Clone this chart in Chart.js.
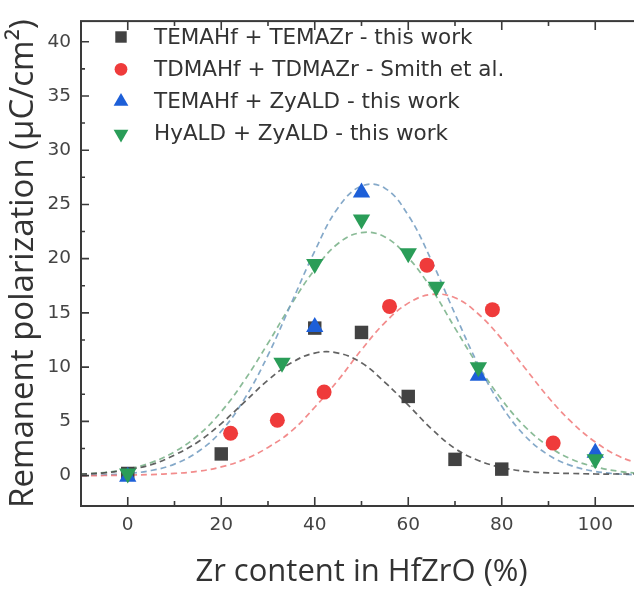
<!DOCTYPE html>
<html><head><meta charset="utf-8">
<script src="https://cdn.jsdelivr.net/npm/chart.js@4"></script>
<style>
html,body{margin:0;padding:0;overflow:hidden;background:#fff;width:634px;height:591px}
#wrap{width:652px;height:591px;position:relative}
</style></head>
<body><div id="wrap"><canvas id="c" width="652" height="591"></canvas></div>
<script>
// ---- data ----
const seriesLabels = ['TEMAHf + TEMAZr - this work','TDMAHf + TDMAZr - Smith et al.','TEMAHf + ZyALD - this work','HyALD + ZyALD - this work'];
const xTicks = [0,20,40,60,80,100];
const xMinorTicks = [10,30,50,70,90];
const yTicks = [0,5,10,15,20,25,30,35,40];
const yMinorTicks = [2.5,7.5,12.5,17.5,22.5,27.5,32.5,37.5];

const temaX = [0,20,40,50,60,70,80];
const temaY = [0.2,2.0,13.6,13.2,7.3,1.5,0.6];
const smithX = [22,32,42,56,64,78,91];
const smithY = [3.9,5.1,7.7,15.6,19.4,15.3,3.0];
const zyX = [0,40,50,75,100];
const zyY = [-0.1,13.7,26.1,9.2,2.1];
const hyX = [0,33,40,50,60,66,75,100];
const hyY = [0.2,10.4,19.5,23.6,20.5,17.4,10.0,1.5];

// fitted curves
const fitX = [-10,-5,0,5,10,15,20,25,30,35,40,45,50,55,60,65,70,75,80,85,90,95,100,105,110];
const temaFit = [0.15,0.25,0.55,1.0,1.9,3.1,4.8,6.8,8.8,10.4,11.3,11.3,10.4,8.6,6.5,4.3,2.5,1.4,0.75,0.4,0.25,0.2,0.15,0.15,0.15];
const smithFit = [0.0,0.01,0.05,0.1,0.2,0.4,0.8,1.5,2.6,4.1,6.3,8.8,11.6,14.1,15.9,16.7,16.4,14.9,12.6,9.9,7.2,4.9,3.1,1.8,1.0];
const zyFit = [0.02,0.07,0.19,0.47,1.06,2.2,4.1,7.1,11.1,15.9,20.7,24.7,26.7,26.5,24.0,19.8,14.9,10.2,6.4,3.65,1.9,0.9,0.39,0.15,0.06];
const hyFit = [0.13,0.29,0.61,1.2,2.2,3.7,5.9,8.8,12.2,15.8,19.0,21.4,22.4,22.0,20.1,17.2,13.6,10.1,7.0,4.5,2.7,1.5,0.81,0.4,0.18];

const colors = ['#424242','#ef3b3b','#1d5fd8','#2a9d58'];
const fitColors = ['rgba(70,70,70,0.85)','rgba(240,120,120,0.85)','rgba(120,160,195,0.9)','rgba(125,180,140,0.9)'];
const styles = [
  {pointStyle:'rect', radius:9.5, rotation:0},
  {pointStyle:'circle', radius:7.5, rotation:0},
  {pointStyle:'triangle', radius:10, rotation:0},
  {pointStyle:'triangle', radius:10, rotation:180}
];

const pts = (xs,ys)=>xs.map((x,i)=>({x:x,y:ys[i]}));
const dataSets = [[temaX,temaY],[smithX,smithY],[zyX,zyY],[hyX,hyY]];
const fits = [temaFit,smithFit,zyFit,hyFit];

const datasets = [];
fits.forEach((f,i)=>{
  datasets.push({type:'line', label:'fit'+i, data:pts(fitX,f), showLine:true, borderColor:fitColors[i],
    borderWidth:1.7, borderDash:[6,4], pointRadius:0, fill:false, tension:0.4, order:10+i});
});
dataSets.forEach((d,i)=>{
  datasets.push({type:'scatter', label:seriesLabels[i], data:pts(d[0],d[1]),
    pointStyle:styles[i].pointStyle, pointRadius:styles[i].radius, pointHoverRadius:styles[i].radius,
    pointRotation:styles[i].rotation, backgroundColor:colors[i], borderColor:colors[i], borderWidth:0, order:5-i});
});

function drawMarker(ctx, st, x, y){
  ctx.beginPath();
  const r = st.radius;
  if (st.pointStyle==='rect'){ const s=Math.SQRT1_2*r; ctx.rect(x-s,y-s,2*s,2*s); }
  else if (st.pointStyle==='circle'){ ctx.arc(x,y,r,0,Math.PI*2); }
  else { let rad = st.rotation*Math.PI/180;
    ctx.moveTo(x+Math.sin(rad)*r, y-Math.cos(rad)*r); rad+=2*Math.PI/3;
    ctx.lineTo(x+Math.sin(rad)*r, y-Math.cos(rad)*r); rad+=2*Math.PI/3;
    ctx.lineTo(x+Math.sin(rad)*r, y-Math.cos(rad)*r); ctx.closePath(); }
  ctx.fill();
}

const frame = {
  id:'frame',
  afterDatasetsDraw(ch){
    const {ctx, chartArea:a, scales:{x,y}} = ch;
    ctx.save();
    ctx.strokeStyle='#3a3a3a'; ctx.lineWidth=2;
    ctx.strokeRect(a.left, a.top, a.right-a.left, a.bottom-a.top);
    ctx.lineWidth=1.6;
    ctx.beginPath();
    xTicks.forEach(v=>{const p=x.getPixelForValue(v); ctx.moveTo(p,a.bottom); ctx.lineTo(p,a.bottom-9); ctx.moveTo(p,a.top); ctx.lineTo(p,a.top+9);});
    xMinorTicks.forEach(v=>{const p=x.getPixelForValue(v); ctx.moveTo(p,a.bottom); ctx.lineTo(p,a.bottom-5); ctx.moveTo(p,a.top); ctx.lineTo(p,a.top+5);});
    yTicks.forEach(v=>{const p=y.getPixelForValue(v); ctx.moveTo(a.left,p); ctx.lineTo(a.left+8,p); ctx.moveTo(a.right,p); ctx.lineTo(a.right-8,p);});
    yMinorTicks.forEach(v=>{const p=y.getPixelForValue(v); ctx.moveTo(a.left,p); ctx.lineTo(a.left+4,p); ctx.moveTo(a.right,p); ctx.lineTo(a.right-4,p);});
    ctx.stroke();
    // legend
    ctx.font = '21.5px "DejaVu Sans", sans-serif';
    ctx.textBaseline='middle'; ctx.textAlign='left';
    seriesLabels.forEach((lab,i)=>{
      const yy = 37 + i*32.3;
      ctx.fillStyle = colors[i];
      const st = Object.assign({}, styles[i], {radius: styles[i].radius*0.85});
      drawMarker(ctx, st, 121, yy);
      ctx.fillStyle='#333';
      ctx.fillText(lab, 154, yy+1);
    });
    ctx.restore();
  }
};

new Chart(document.getElementById('c'), {
  data:{datasets:datasets},
  plugins:[frame],
  options:{
    responsive:false, animation:false,
    layout:{padding:{top:8,right:9,left:0,bottom:0}},
    plugins:{legend:{display:false}, tooltip:{enabled:false}},
    scales:{
      x:{type:'linear', min:-10, max:110,
        afterBuildTicks(s){ s.ticks = xTicks.map(v=>({value:v})); },
        afterFit(s){ s.height = 85; },
        grid:{display:false, drawTicks:false}, border:{display:false},
        ticks:{padding:8, color:'#444', font:{family:'"DejaVu Sans"', size:18.5}, maxRotation:0, autoSkip:false},
        title:{display:true, text:'Zr content in HfZrO (%)', color:'#333', font:{family:'"Open Sans"', size:31}, padding:{top:0,bottom:0}}
      },
      y:{type:'linear', min:-2.8, max:41.9,
        afterBuildTicks(s){ s.ticks = yTicks.map(v=>({value:v})); },
        afterFit(s){ s.width = 81; },
        grid:{display:false, drawTicks:false}, border:{display:false},
        ticks:{padding:10, color:'#444', font:{family:'"DejaVu Sans"', size:18.5}, autoSkip:false},
        title:{display:true, text:'Remanent polarization (µC/cm²)', color:'#333', font:{family:'"Open Sans"', size:33}, padding:{top:4,bottom:4}}
      }
    }
  }
});
</script></body></html>
